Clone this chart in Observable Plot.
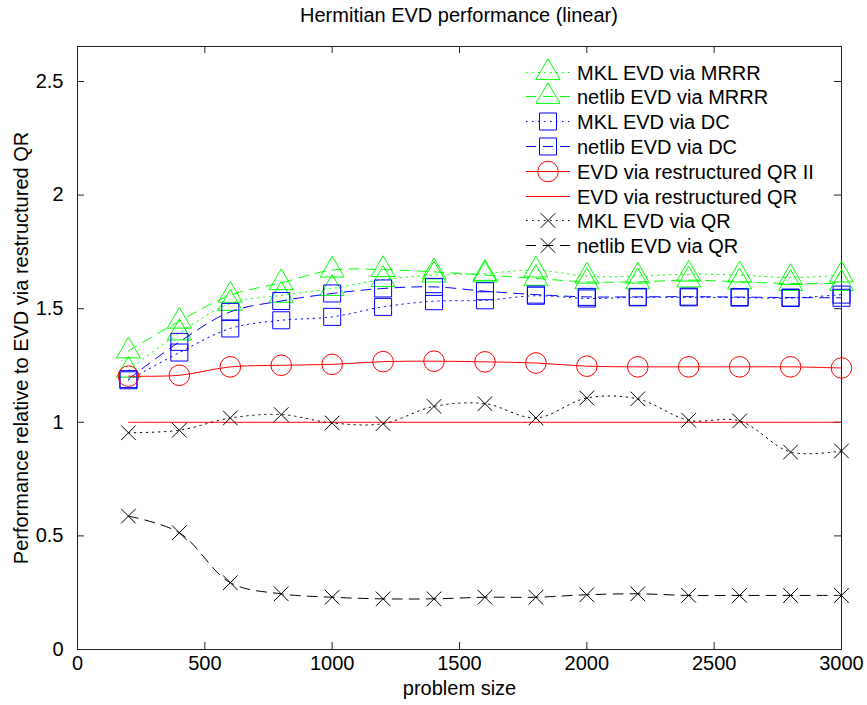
<!DOCTYPE html>
<html><head><meta charset="utf-8">
<script src="https://cdn.jsdelivr.net/npm/d3@7"></script>
<script src="https://cdn.jsdelivr.net/npm/@observablehq/plot@0.6"></script>
<style>
body{margin:0;background:#fff;font-family:"Liberation Sans",Arial,sans-serif;}
#title{width:867px;height:30px;line-height:30px;padding-left:51px;box-sizing:border-box;text-align:center;font-size:20px;color:#000;}
#chart{width:867px;height:675px;}
</style></head><body>
<div id="title">Hermitian EVD performance (linear)</div>
<div id="chart"></div>
<script>
const sizes = [200,400,600,800,1000,1200,1400,1600,1800,2000,2200,2400,2600,2800,3000];
const mklMRRR = [1.229,1.393,1.523,1.559,1.589,1.628,1.648,1.655,1.670,1.643,1.643,1.652,1.648,1.637,1.648];
const netlibMRRR = [1.314,1.445,1.559,1.614,1.670,1.672,1.662,1.648,1.633,1.618,1.618,1.626,1.618,1.611,1.611];
const mklDC = [1.185,1.307,1.413,1.449,1.464,1.508,1.533,1.537,1.557,1.545,1.550,1.550,1.549,1.547,1.562];
const netlibDC = [1.190,1.354,1.486,1.534,1.567,1.589,1.596,1.577,1.562,1.552,1.552,1.553,1.551,1.549,1.548];
const restructuredQRII = [1.203,1.207,1.244,1.251,1.255,1.267,1.269,1.266,1.261,1.247,1.244,1.244,1.244,1.244,1.239];
const restructuredQR = [1,1,1,1,1,1,1,1,1,1,1,1,1,1,1];
const mklQR = [0.954,0.965,1.019,1.034,0.997,0.994,1.070,1.082,1.019,1.107,1.103,1.009,1.006,0.869,0.874];
const netlibQR = [0.587,0.514,0.294,0.245,0.230,0.223,0.223,0.230,0.230,0.241,0.245,0.238,0.238,0.238,0.238];
const seriesNames = ["MKL EVD via MRRR","netlib EVD via MRRR","MKL EVD via DC","netlib EVD via DC","EVD via restructured QR II","EVD via restructured QR","MKL EVD via QR","netlib EVD via QR"];
const seriesValues = [mklMRRR, netlibMRRR, mklDC, netlibDC, restructuredQRII, restructuredQR, mklQR, netlibQR];
const xTicks = [0,500,1000,1500,2000,2500,3000];
const yTicks = [0,0.5,1,1.5,2,2.5];

const W = 867, H = 675, ML = 77, MR = 26, MT = 16, MB = 56, TICK = 7;
const innerW = W - ML - MR, innerH = H - MT - MB;

const DOT = "1.5,4.5", DASH = "10,7";
const styles = [
  {stroke:"#00ff00", dash:DOT, symbol:"triangle", r:8.9, d3s:d3.symbolTriangle},
  {stroke:"#00ff00", dash:DASH, symbol:"triangle", r:8.9, d3s:d3.symbolTriangle},
  {stroke:"#0000ff", dash:DOT, symbol:"square", r:9.6, d3s:d3.symbolSquare},
  {stroke:"#0000ff", dash:DASH, symbol:"square", r:9.6, d3s:d3.symbolSquare},
  {stroke:"#ff0000", dash:null, symbol:"circle", r:10.3, d3s:d3.symbolCircle},
  {stroke:"#ff0000", dash:null, symbol:null},
  {stroke:"#000000", dash:DOT, symbol:"times", r:6.7, d3s:d3.symbolTimes},
  {stroke:"#000000", dash:DASH, symbol:"times", r:6.7, d3s:d3.symbolTimes}
];

const marks = [];
seriesNames.forEach((name, k) => {
  const rows = sizes.map((s, i) => ({series: name, size: s, value: seriesValues[k][i]}));
  const st = styles[k];
  marks.push(Plot.line(rows, {x: "size", y: "value", stroke: st.stroke, strokeWidth: 1, strokeDasharray: st.dash ?? undefined, curve: "catmull-rom"}));
  if (st.symbol) marks.push(Plot.dot(rows, {x: "size", y: "value", symbol: st.symbol, r: st.r, stroke: st.stroke, fill: "none", strokeWidth: 1}));
});

const chart = Plot.plot({
  width: W, height: H,
  marginLeft: ML, marginRight: MR, marginTop: MT, marginBottom: MB,
  style: {fontSize: "20px", fontFamily: "'Liberation Sans', Arial, sans-serif", color: "#000", background: "#fff"},
  x: {domain: [0, 3000]},
  y: {domain: [0, 2.654]},
  marks: [
    Plot.frame({stroke: "#222"}),
    // inward ticks on all four sides
    Plot.tickX(xTicks, {x: d => d, stroke: "#222", insetTop: innerH - TICK}),
    Plot.tickX(xTicks, {x: d => d, stroke: "#222", insetBottom: innerH - TICK}),
    Plot.tickY(yTicks, {y: d => d, stroke: "#222", insetRight: innerW - TICK}),
    Plot.tickY(yTicks, {y: d => d, stroke: "#222", insetLeft: innerW - TICK}),
    Plot.axisX({anchor: "bottom", ticks: xTicks, tickSize: 0, tickPadding: 6, tickFormat: d => String(d), label: "problem size", labelAnchor: "center", labelOffset: 45, labelArrow: "none"}),
    Plot.axisY({anchor: "left", ticks: yTicks, tickSize: 0, tickPadding: 14, tickFormat: d => String(d), label: "Performance relative to EVD via restructured QR", labelAnchor: "center", labelOffset: 64, labelArrow: "none"}),
    ...marks
  ]
});
document.getElementById("chart").appendChild(chart);

// legend (inside plot, top right, no box)
const g = d3.select(chart).append("g")
  .attr("font-size", 20).attr("font-family", "'Liberation Sans', Arial, sans-serif").attr("text-anchor", "start");
seriesNames.forEach((name, i) => {
  const st = styles[i];
  const y = Math.round(41.7 + i * 24.76) + 0.5;
  const ln = g.append("line").attr("x1", 526).attr("x2", 570).attr("y1", y).attr("y2", y)
    .style("stroke", st.stroke).attr("stroke-width", 1);
  if (st.dash) ln.attr("stroke-dasharray", st.dash);
  if (st.symbol) {
    g.append("path").attr("transform", `translate(548,${y})`)
      .attr("d", d3.symbol(st.d3s, Math.PI * st.r * st.r)())
      .attr("fill", "none").style("stroke", st.stroke).attr("stroke-width", 1);
  }
  g.append("text").attr("x", 577).attr("y", y).attr("dy", "0.35em").attr("text-anchor", "start").attr("fill", "#000").text(name);
});
</script>
</body></html>
